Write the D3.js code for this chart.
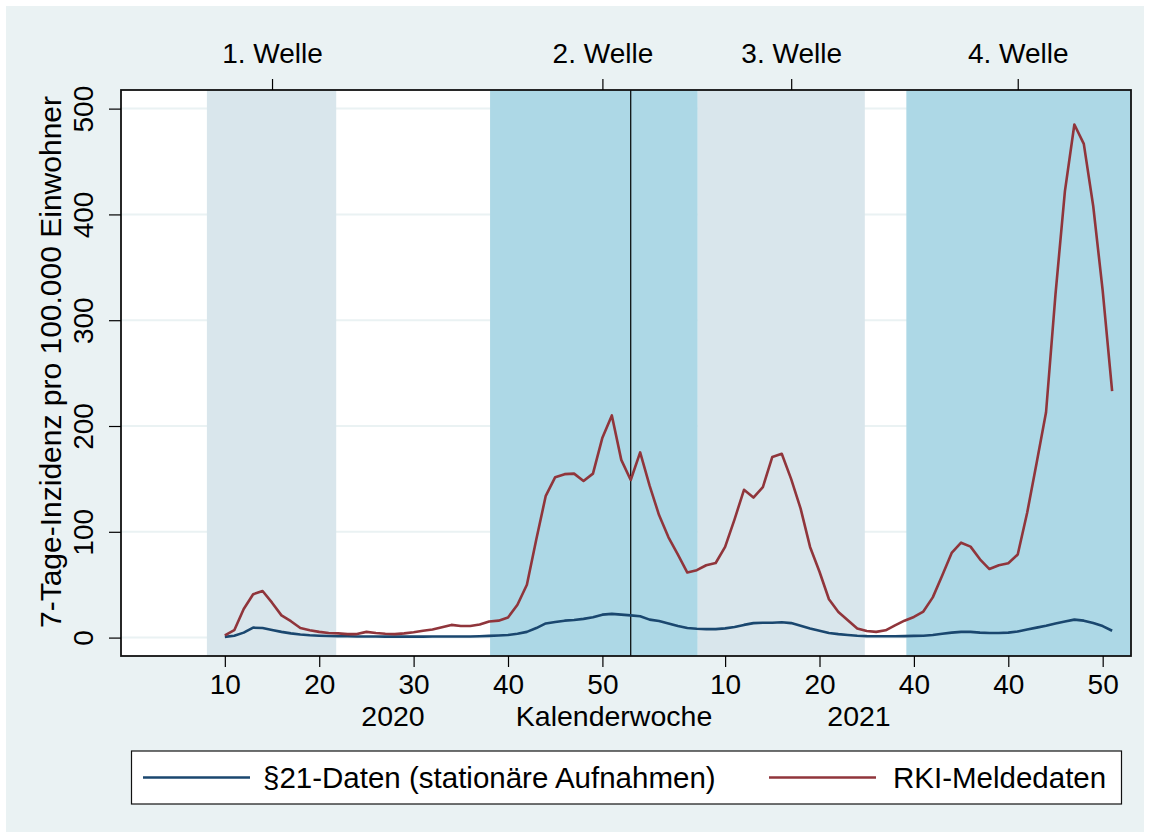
<!DOCTYPE html>
<html>
<head>
<meta charset="utf-8">
<script src="https://cdn.jsdelivr.net/npm/d3@7"></script>
<style>
  body { margin: 0; background: #ffffff; }
  text { font-family: "Liberation Sans", Arial, sans-serif; fill: #000; }
  .axis path { display: none; }
  .axis line { stroke: #000; stroke-width: 1.2; }
</style>
</head>
<body>
<div id="chart"></div>
<script>
// x position = running week: 2020 weeks 1..53, then 2021 weeks 54..
var firstWeek2020 = 10
var weeks2020 = 53

// RKI-Meldedaten, 7-Tage-Inzidenz
var rki2020 = [2, 7, 27, 41, 44, 33, 21, 15.5, 9, 7, 5.4, 4.3, 4, 3.3, 3.3, 5.4, 4.3, 3.6, 3.3, 4,
  5, 6.5, 7.6, 9.8, 12, 10.9, 10.9, 12.3, 15.2, 16, 19, 31, 50, 93, 134, 151.6, 154.5, 155, 148, 155,
  189, 210, 168, 149]
var rki2021 = [175, 143.6, 115.8, 94.8, 78.5, 61.5, 63.7, 68.4, 70.5, 85.7, 111.8, 139.7, 132.4, 142.2,
  170.8, 173.7, 149.8, 121.9, 85.7, 62.2, 36.2, 24.2, 16.3, 8.7, 6.2, 5.4, 6.9, 11.6, 16, 19.5, 24.6,
  38, 58.6, 80, 89.7, 86, 74, 64.8, 68.4, 70.2, 78.5, 118, 165, 213, 324.5, 422, 485, 466.7, 407.7,
  328, 233]

// §21-Daten (stationäre Aufnahmen)
var s21_2020 = [0.7, 1.8, 4.7, 9.4, 9, 7.2, 5.4, 4, 2.9, 2.2, 1.8, 1.5, 1.3, 1.2, 1.1, 1.0, 1.0, 0.9, 0.9,
  0.9, 0.9, 0.9, 1.0, 1.0, 1.0, 1.0, 1.1, 1.3, 1.6, 2.0, 2.5, 3.6, 5.4, 9, 13.4, 14.8, 16, 16.6, 17.7,
  19.2, 21.7, 22.4, 21.7, 21]
var s21_2021 = [20.2, 17, 15.6, 13.4, 10.9, 9, 8.3, 8, 8, 8.7, 10, 12, 13.7, 14.1, 14.1, 14.5, 13.7,
  11.2, 8.7, 6.5, 4.3, 3.3, 2.5, 1.8, 1.4, 1.3, 1.2, 1.2, 1.4, 1.6, 1.8, 2.5, 3.6, 4.7, 5.4, 5.4, 4.7,
  4.3, 4.3, 4.7, 5.8, 7.6, 9.4, 11.2, 13.4, 15.2, 17, 16, 13.7, 10.9, 6.5]

// waves (shaded), in running weeks
var waveStart = [8.1, 38.1, 60.1, 82.2]
var waveEnd = [21.8, 60.1, 77.8, 106]
var waveColors = ["#d9e6ec", "#add8e6", "#d9e6ec", "#add8e6"]
var waveLabels = ["1. Welle", "2. Welle", "3. Welle", "4. Welle"]
var waveLabelWeeks = [15, 50, 70, 94]

var xTicks = [10, 20, 30, 40, 50, 63, 73, 83, 93, 103]
var xTickLabels = ["10", "20", "30", "40", "50", "10", "20", "40", "40", "50"]
var yTicks = [0, 100, 200, 300, 400, 500]
var yearBreak = 53

function toSeries(v2020, v2021){
  var out = []
  v2020.forEach(function(v, i){ out.push({wk: firstWeek2020 + i, v: v}) })
  v2021.forEach(function(v, i){ out.push({wk: weeks2020 + 1 + i, v: v}) })
  return out
}

var W = 1150, H = 838
var plot = {left: 121, right: 1131, top: 90, bottom: 656}

var svg = d3.select("#chart").append("svg")
  .attr("width", W)
  .attr("height", H)

svg.append("rect")
  .attr("x", 6).attr("y", 6)
  .attr("width", W - 12).attr("height", H - 12)
  .attr("fill", "#eaf2f3")

var x = d3.scaleLinear().domain([-1, 106]).range([plot.left, plot.right])
var y = d3.scaleLinear().domain([-17.4, 517.6]).range([plot.bottom, plot.top])

svg.append("rect")
  .attr("x", plot.left).attr("y", plot.top)
  .attr("width", plot.right - plot.left).attr("height", plot.bottom - plot.top)
  .attr("fill", "#ffffff")

svg.append("g").selectAll("line")
  .data(yTicks)
  .enter().append("line")
    .attr("x1", plot.left).attr("x2", plot.right)
    .attr("y1", function(d){ return y(d) }).attr("y2", function(d){ return y(d) })
    .attr("stroke", "#eaf2f3")
    .attr("stroke-width", 2)

svg.append("g").selectAll("rect")
  .data(waveStart)
  .enter().append("rect")
    .attr("x", function(d){ return x(d) })
    .attr("y", plot.top)
    .attr("width", function(d, i){ return Math.min(x(waveEnd[i]), plot.right) - x(d) })
    .attr("height", plot.bottom - plot.top)
    .attr("fill", function(d, i){ return waveColors[i] })

svg.append("line")
  .attr("x1", x(yearBreak)).attr("x2", x(yearBreak))
  .attr("y1", plot.top).attr("y2", plot.bottom)
  .attr("stroke", "#000")
  .attr("stroke-width", 1.2)

var line = d3.line()
  .x(function(d){ return x(d.wk) })
  .y(function(d){ return y(d.v) })

svg.append("path")
  .datum(toSeries(s21_2020, s21_2021))
  .attr("fill", "none")
  .attr("stroke", "#1a476f")
  .attr("stroke-width", 2.6)
  .attr("stroke-linejoin", "round")
  .attr("d", line)

svg.append("path")
  .datum(toSeries(rki2020, rki2021))
  .attr("fill", "none")
  .attr("stroke", "#90353b")
  .attr("stroke-width", 2.6)
  .attr("stroke-linejoin", "round")
  .attr("d", line)

svg.append("rect")
  .attr("x", plot.left).attr("y", plot.top)
  .attr("width", plot.right - plot.left).attr("height", plot.bottom - plot.top)
  .attr("fill", "none")
  .attr("stroke", "#111")
  .attr("stroke-width", 1.8)

// axes
var fontSize = 28

var xAxis = svg.append("g")
  .attr("class", "axis")
  .attr("transform", "translate(0," + plot.bottom + ")")
  .call(d3.axisBottom(x).tickValues(xTicks).tickSize(11).tickPadding(7)
    .tickFormat(function(d, i){ return xTickLabels[i] }))
xAxis.selectAll("text").style("font-size", fontSize + "px")

var topAxis = svg.append("g")
  .attr("class", "axis")
  .attr("transform", "translate(0," + plot.top + ")")
  .call(d3.axisTop(x).tickValues(waveLabelWeeks).tickSize(11).tickPadding(16)
    .tickFormat(function(d, i){ return waveLabels[i] }))
topAxis.selectAll("text").style("font-size", fontSize + "px")

var yAxis = svg.append("g")
  .attr("class", "axis")
  .attr("transform", "translate(" + plot.left + ",0)")
  .call(d3.axisLeft(y).tickValues(yTicks).tickSize(12))
yAxis.selectAll("text")
  .attr("x", 0)
  .attr("y", -28)
  .attr("dy", 0)
  .attr("transform", "rotate(-90)")
  .style("text-anchor", "middle")
  .style("font-size", fontSize + "px")

svg.append("text")
  .attr("transform", "translate(61," + 362 + ") rotate(-90)")
  .style("text-anchor", "middle")
  .style("font-size", "30px")
  .text("7-Tage-Inzidenz pro 100.000 Einwohner")

var bottomTitles = [
  {label: "2020", x: 393},
  {label: "Kalenderwoche", x: 614},
  {label: "2021", x: 859}
]

bottomTitles.forEach(function(d){
  svg.append("text")
    .attr("x", d.x).attr("y", 726)
    .style("text-anchor", "middle")
    .style("font-size", "28.5px")
    .text(d.label)
})

// legend
var legend = svg.append("g")

legend.append("rect")
  .attr("x", 131.5).attr("y", 751)
  .attr("width", 990).attr("height", 53)
  .attr("fill", "#fff")
  .attr("stroke", "#111")
  .attr("stroke-width", 1.2)

var legendItems = [
  {label: "§21-Daten (stationäre Aufnahmen)", color: "#1a476f", x: 143, tx: 263},
  {label: "RKI-Meldedaten", color: "#90353b", x: 769, tx: 893}
]

legendItems.forEach(function(d){
  legend.append("line")
    .attr("x1", d.x).attr("x2", d.x + 107)
    .attr("y1", 777.5).attr("y2", 777.5)
    .attr("stroke", d.color)
    .attr("stroke-width", 2.6)
  legend.append("text")
    .attr("x", d.tx).attr("y", 788)
    .style("font-size", "29.5px")
    .text(d.label)
})
</script>
</body>
</html>
